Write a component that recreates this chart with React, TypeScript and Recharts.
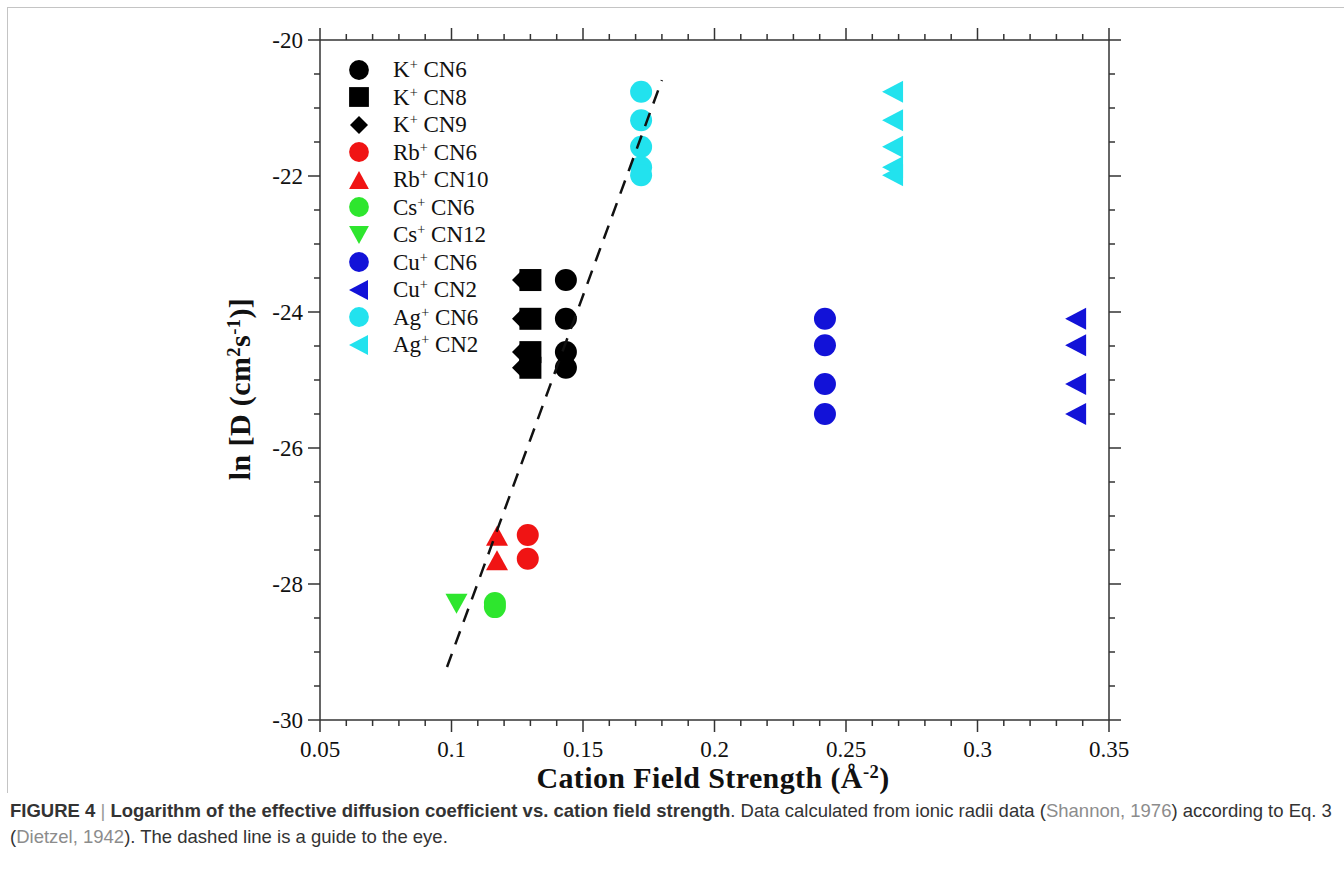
import React from 'react';
import { ScatterChart, Scatter, XAxis, YAxis, Legend } from 'recharts';

// axis ticks (majors are labelled, the rest are minor marks)
const xMajorTicks = [0.05, 0.1, 0.15, 0.2, 0.25, 0.3, 0.35];
const yMajorTicks = [-30, -28, -26, -24, -22, -20];
const xTicks = Array.from({ length: 31 }, (_, i) => Math.round((0.05 + i * 0.01) * 1000) / 1000);
const yTicks = Array.from({ length: 21 }, (_, i) => -30 + i * 0.5);

// ln D vs cation field strength
const kCn6 = [
  { x: 0.1435, y: -23.53 },
  { x: 0.1435, y: -24.1 },
  { x: 0.1435, y: -24.59 },
  { x: 0.1435, y: -24.82 },
];
const kCn8 = [
  { x: 0.130, y: -23.53 },
  { x: 0.130, y: -24.1 },
  { x: 0.130, y: -24.59 },
  { x: 0.130, y: -24.82 },
];
const kCn9 = [
  { x: 0.1268, y: -23.53 },
  { x: 0.1268, y: -24.1 },
  { x: 0.1268, y: -24.59 },
  { x: 0.1268, y: -24.82 },
];
const rbCn6 = [
  { x: 0.129, y: -27.28 },
  { x: 0.129, y: -27.63 },
];
const rbCn10 = [
  { x: 0.1173, y: -27.29 },
  { x: 0.1173, y: -27.65 },
];
const csCn6 = [
  { x: 0.1165, y: -28.28 },
  { x: 0.1165, y: -28.34 },
];
const csCn12 = [{ x: 0.1019, y: -28.29 }];
const cuCn6 = [
  { x: 0.242, y: -24.1 },
  { x: 0.242, y: -24.49 },
  { x: 0.242, y: -25.06 },
  { x: 0.242, y: -25.5 },
];
const cuCn2 = [
  { x: 0.3375, y: -24.1 },
  { x: 0.3375, y: -24.49 },
  { x: 0.3375, y: -25.06 },
  { x: 0.3375, y: -25.5 },
];
const agCn6 = [
  { x: 0.1721, y: -20.76 },
  { x: 0.1721, y: -21.18 },
  { x: 0.1721, y: -21.57 },
  { x: 0.1721, y: -21.87 },
  { x: 0.1721, y: -21.99 },
];
const agCn2 = [
  { x: 0.2679, y: -20.76 },
  { x: 0.2679, y: -21.18 },
  { x: 0.2679, y: -21.57 },
  { x: 0.2679, y: -21.87 },
  { x: 0.2679, y: -21.99 },
];
// dashed guide to the eye
const guideLine = [
  { x: 0.0983, y: -29.22 },
  { x: 0.18, y: -20.59 },
];

const BLACK = '#000000';
const RED = '#f01414';
const GREEN = '#2ee62e';
const BLUE = '#1212d8';
const CYAN = '#22e2ee';
const AXIS = '#333333';
const SERIF = '"Liberation Serif", "DejaVu Serif", serif';
const SANS = '"Liberation Sans", Arial, sans-serif';

const series = [
  { ion: 'K', cn: 'CN6', kind: 'circle', color: BLACK, data: kCn6 },
  { ion: 'K', cn: 'CN8', kind: 'square', color: BLACK, data: kCn8 },
  { ion: 'K', cn: 'CN9', kind: 'diamond', color: BLACK, data: kCn9 },
  { ion: 'Rb', cn: 'CN6', kind: 'circle', color: RED, data: rbCn6 },
  { ion: 'Rb', cn: 'CN10', kind: 'up', color: RED, data: rbCn10 },
  { ion: 'Cs', cn: 'CN6', kind: 'circle', color: GREEN, data: csCn6 },
  { ion: 'Cs', cn: 'CN12', kind: 'down', color: GREEN, data: csCn12 },
  { ion: 'Cu', cn: 'CN6', kind: 'circle', color: BLUE, data: cuCn6 },
  { ion: 'Cu', cn: 'CN2', kind: 'left', color: BLUE, data: cuCn2 },
  { ion: 'Ag', cn: 'CN6', kind: 'circle', color: CYAN, data: agCn6 },
  { ion: 'Ag', cn: 'CN2', kind: 'left', color: CYAN, data: agCn2 },
];

const isMajor = (v: number, majors: number[]) => majors.some(m => Math.abs(m - v) < 1e-6);

const Marker = ({ kind, color, cx, cy, s = 1 }: any) => {
  const r = 11 * s;
  const h = 10 * s;
  if (cx == null || cy == null) return <g />;
  switch (kind) {
    case 'square':
      return <rect x={cx - r} y={cy - r} width={2 * r} height={2 * r} fill={color} />;
    case 'diamond':
      return <polygon points={`${cx - h},${cy} ${cx},${cy - h} ${cx + h},${cy} ${cx},${cy + h}`} fill={color} />;
    case 'up':
      return <polygon points={`${cx - r},${cy + h} ${cx + r},${cy + h} ${cx},${cy - h}`} fill={color} />;
    case 'down':
      return <polygon points={`${cx - r},${cy - h} ${cx + r},${cy - h} ${cx},${cy + h}`} fill={color} />;
    case 'left':
      return <polygon points={`${cx + h},${cy - r} ${cx + h},${cy + r} ${cx - h - 1},${cy}`} fill={color} />;
    default:
      return <circle cx={cx} cy={cy} r={r} fill={color} />;
  }
};

const BottomTick = ({ x, y, payload }: any) => {
  const major = isMajor(payload.value, xMajorTicks);
  return (
    <g>
      <line x1={x} y1={y} x2={x} y2={y + (major ? 12 : 6)} stroke={AXIS} strokeWidth={1.5} />
      {major && (
        <text x={x} y={y + 37} textAnchor="middle" fontFamily={SERIF} fontSize={23} fill="#111">
          {String(payload.value)}
        </text>
      )}
    </g>
  );
};

const TopTick = ({ x, y, payload }: any) => {
  const major = isMajor(payload.value, xMajorTicks);
  return <line x1={x} y1={y} x2={x} y2={y - (major ? 12 : 6)} stroke={AXIS} strokeWidth={1.5} />;
};

const LeftTick = ({ x, y, payload }: any) => {
  const major = isMajor(payload.value, yMajorTicks);
  return (
    <g>
      <line x1={x} y1={y} x2={x - (major ? 12 : 6)} y2={y} stroke={AXIS} strokeWidth={1.5} />
      {major && (
        <text x={x - 17} y={y} dy="0.35em" textAnchor="end" fontFamily={SERIF} fontSize={23} fill="#111">
          {String(payload.value)}
        </text>
      )}
    </g>
  );
};

const RightTick = ({ x, y, payload }: any) => {
  const major = isMajor(payload.value, yMajorTicks);
  return <line x1={x} y1={y} x2={x + (major ? 12 : 6)} y2={y} stroke={AXIS} strokeWidth={1.5} />;
};

const supStyle: React.CSSProperties = { fontSize: '0.62em', lineHeight: 0, verticalAlign: '0.55em' };

const renderLegend = () => (
  <div style={{ fontFamily: SERIF, fontSize: 23, color: '#111' }}>
    {series.map((s, i) => (
      <div key={i} style={{ display: 'flex', alignItems: 'center', height: 27.5 }}>
        <svg width={24} height={24} style={{ marginRight: 22, flex: 'none' }}>
          <Marker kind={s.kind} color={s.color} cx={12} cy={12} s={0.9} />
        </svg>
        <span style={{ lineHeight: '27.5px', whiteSpace: 'nowrap' }}>
          {s.ion}
          <sup style={supStyle}>+</sup> {s.cn}
        </span>
      </div>
    ))}
  </div>
);

export default function App() {
  const axisLine = { stroke: AXIS, strokeWidth: 1.5 };
  return (
    <div style={{ position: 'absolute', left: 0, top: 0, width: 1344, height: 880, background: '#fff', overflow: 'hidden' }}>
      <div
        style={{
          position: 'absolute',
          left: 7,
          top: 7,
          width: 1337,
          height: 785,
          borderTop: '1px solid #c4c4c4',
          borderLeft: '1px solid #c4c4c4',
        }}
      />
      <div style={{ position: 'absolute', left: 0, top: 0 }}>
        <ScatterChart width={1344} height={880} margin={{ top: 20, right: 215, bottom: 100, left: 260 }}>
          <XAxis
            type="number"
            dataKey="x"
            domain={[0.05, 0.35]}
            ticks={xTicks}
            interval={0}
            height={60}
            tickSize={0}
            tickMargin={0}
            tickLine={false}
            axisLine={axisLine}
            allowDataOverflow
            tick={(p: any) => <BottomTick {...p} />}
          />
          <XAxis
            xAxisId="top"
            orientation="top"
            type="number"
            dataKey="x"
            domain={[0.05, 0.35]}
            ticks={xTicks}
            interval={0}
            height={20}
            tickSize={0}
            tickMargin={0}
            tickLine={false}
            axisLine={axisLine}
            allowDataOverflow
            tick={(p: any) => <TopTick {...p} />}
          />
          <YAxis
            type="number"
            dataKey="y"
            domain={[-30, -20]}
            ticks={yTicks}
            interval={0}
            width={60}
            tickSize={0}
            tickMargin={0}
            tickLine={false}
            axisLine={axisLine}
            allowDataOverflow
            tick={(p: any) => <LeftTick {...p} />}
          />
          <YAxis
            yAxisId="right"
            orientation="right"
            type="number"
            dataKey="y"
            domain={[-30, -20]}
            ticks={yTicks}
            interval={0}
            width={20}
            tickSize={0}
            tickMargin={0}
            tickLine={false}
            axisLine={axisLine}
            allowDataOverflow
            tick={(p: any) => <RightTick {...p} />}
          />
          <Legend
            content={renderLegend}
            layout="vertical"
            align="center"
            verticalAlign="middle"
            wrapperStyle={{ left: 347, top: 56, width: 200 }}
          />
          {series.map((s, i) => (
            <Scatter
              key={i}
              name={`${s.ion}+ ${s.cn}`}
              data={s.data}
              fill={s.color}
              isAnimationActive={false}
              shape={(p: any) => <Marker kind={s.kind} color={s.color} cx={p.cx} cy={p.cy} />}
            />
          ))}
          <Scatter
            name="guide"
            data={guideLine}
            xAxisId="top"
            yAxisId="right"
            fill="#111"
            legendType="none"
            isAnimationActive={false}
            line={{ stroke: '#111', strokeWidth: 2.5, strokeDasharray: '14 10' }}
            shape={() => <g />}
          />
        </ScatterChart>
      </div>
      <div
        style={{
          position: 'absolute',
          left: 363,
          top: 761,
          width: 700,
          textAlign: 'center',
          fontFamily: SERIF,
          fontWeight: 'bold',
          fontSize: 30,
          letterSpacing: 0.4,
          lineHeight: '34px',
          color: '#111',
          whiteSpace: 'nowrap',
        }}
      >
        Cation Field Strength (Å<sup style={supStyle}>-2</sup>)
      </div>
      <div
        style={{
          position: 'absolute',
          left: 90,
          top: 371,
          width: 300,
          height: 36,
          transform: 'rotate(-90deg)',
          transformOrigin: '150px 18px',
          textAlign: 'center',
          fontFamily: SERIF,
          fontWeight: 'bold',
          fontSize: 30,
          letterSpacing: 0.4,
          lineHeight: '36px',
          color: '#111',
          whiteSpace: 'nowrap',
        }}
      >
        ln [D (cm<sup style={supStyle}>2</sup>s<sup style={supStyle}>-1</sup>)]
      </div>
      <div
        style={{
          position: 'absolute',
          left: 10,
          top: 798,
          width: 1334,
          fontFamily: SANS,
          fontSize: 18.5,
          lineHeight: '26px',
          color: '#333',
          whiteSpace: 'nowrap',
        }}
      >
        <div>
          <b>FIGURE 4</b> <span style={{ color: '#999', fontWeight: 300 }}>|</span>{' '}
          <b>Logarithm of the effective diffusion coefficient vs. cation field strength</b>. Data calculated from ionic
          radii data (<span style={{ color: '#8c8c8c' }}>Shannon, 1976</span>) according to Eq. 3
        </div>
        <div>
          (<span style={{ color: '#8c8c8c' }}>Dietzel, 1942</span>). The dashed line is a guide to the eye.
        </div>
      </div>
    </div>
  );
}
